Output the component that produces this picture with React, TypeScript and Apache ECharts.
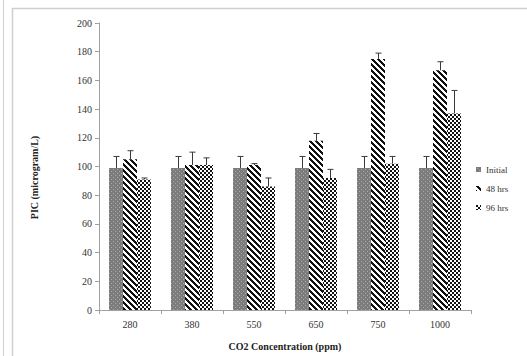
import React, { useEffect, useRef } from "react";
import * as echarts from "echarts";

// CO2 treatment levels (ppm)
const categories = ["280", "380", "550", "650", "750", "1000"];

// PIC means (microgram/L) and standard errors per sampling time
const initialValues = [99, 99, 99, 99, 99, 99];
const initialErrors = [8, 8, 8, 8, 8, 8];
const hrs48Values = [105, 101, 101, 118, 175, 167];
const hrs48Errors = [6, 9, 1, 5, 4, 6];
const hrs96Values = [91, 101, 86, 92, 102, 137];
const hrs96Errors = [1, 5, 6, 6, 5, 16];

const seriesNames = ["Initial", "48 hrs", "96 hrs"];

const FONT = "'Liberation Serif', 'Times New Roman', serif";
const BAR_WIDTH = 14;

function makeTile(size: number, draw: (ctx: CanvasRenderingContext2D) => void) {
  const c = document.createElement("canvas");
  c.width = size;
  c.height = size;
  const ctx = c.getContext("2d")!;
  draw(ctx);
  return c;
}

function dottedGray() {
  return makeTile(4, (ctx) => {
    ctx.fillStyle = "#7c7c7c";
    ctx.fillRect(0, 0, 4, 4);
    ctx.fillStyle = "#a9a9a9";
    ctx.fillRect(1, 1, 1, 1);
    ctx.fillRect(3, 3, 1, 1);
  });
}

function diagonalStripes() {
  const n = 6;
  return makeTile(n, (ctx) => {
    ctx.fillStyle = "#ffffff";
    ctx.fillRect(0, 0, n, n);
    ctx.fillStyle = "#111111";
    for (let y = 0; y < n; y++) {
      for (let x = 0; x < n; x++) {
        if (((x - y + n * 2) % n) < 3) ctx.fillRect(x, y, 1, 1);
      }
    }
  });
}

function checker() {
  return makeTile(4, (ctx) => {
    ctx.fillStyle = "#ffffff";
    ctx.fillRect(0, 0, 4, 4);
    ctx.fillStyle = "#111111";
    ctx.fillRect(0, 0, 2, 2);
    ctx.fillRect(2, 2, 2, 2);
  });
}

function errorBarSeries(values: number[], errors: number[], offset: number) {
  return {
    type: "custom",
    silent: true,
    z: 5,
    data: values.map((v, i) => [i, v, errors[i]]),
    encode: { x: 0, y: 1 },
    renderItem: (_params: any, api: any) => {
      const i = api.value(0);
      const v = api.value(1);
      const e = api.value(2);
      const base = api.coord([i, v]);
      const top = api.coord([i, v + e]);
      const x = Math.round(base[0] + offset) + 0.5;
      const style = { stroke: "#3a3a3a", lineWidth: 1 };
      return {
        type: "group",
        children: [
          { type: "line", shape: { x1: x, y1: base[1], x2: x, y2: top[1] }, style },
          { type: "line", shape: { x1: x - 3, y1: top[1], x2: x + 3, y2: top[1] }, style },
        ],
      };
    },
  };
}

export default function App() {
  const ref = useRef<HTMLDivElement>(null);

  useEffect(() => {
    if (!ref.current) return;
    const chart = echarts.init(ref.current, null, { renderer: "svg" });

    const fills = [dottedGray(), diagonalStripes(), checker()];
    const pattern = (c: HTMLCanvasElement) => ({
      image: c,
      repeat: "repeat",
      imageWidth: c.width,
      imageHeight: c.height,
    });

    const seriesValues = [initialValues, hrs48Values, hrs96Values];

    const bars = seriesNames.map((name, k) => ({
      name,
      type: "bar",
      barWidth: BAR_WIDTH,
      barGap: "0%",
      data: seriesValues[k],
      itemStyle: { color: pattern(fills[k]) as any },
    }));

    chart.setOption({
      animation: false,
      backgroundColor: "#ffffff",
      graphic: [
        {
          type: "line",
          shape: { x1: 3.5, y1: 0, x2: 3.5, y2: 356 },
          style: { stroke: "#cfcfcf", lineWidth: 1 },
          silent: true,
        },
        {
          type: "rect",
          shape: { x: 12.5, y: 8.5, width: 600, height: 400 },
          style: { fill: "none", stroke: "#cfcfcf", lineWidth: 1.5 },
          silent: true,
        },
      ],
      grid: { left: 99, right: 56, top: 23, bottom: 43 },
      legend: {
        data: seriesNames,
        orient: "vertical",
        left: 471,
        top: 160,
        itemWidth: 5,
        itemHeight: 5,
        itemGap: 10,
        icon: "rect",
        textStyle: { fontFamily: FONT, fontSize: 9, color: "#333" },
      },
      xAxis: {
        type: "category",
        data: categories,
        name: "CO2 Concentration (ppm)",
        nameLocation: "middle",
        nameGap: 31,
        nameTextStyle: { fontFamily: FONT, fontSize: 10, fontWeight: "bold", color: "#222" },
        axisLine: { lineStyle: { color: "#a0a0a0" } },
        axisTick: { show: true, length: 4, lineStyle: { color: "#a0a0a0" } },
        axisLabel: { fontFamily: FONT, fontSize: 10, color: "#333", margin: 9 },
      },
      yAxis: {
        type: "value",
        min: 0,
        max: 200,
        interval: 20,
        name: "PIC (microgram/L)",
        nameLocation: "middle",
        nameGap: 60,
        nameTextStyle: {
          fontFamily: FONT,
          fontSize: 10,
          fontWeight: "bold",
          color: "#222",
          padding: [0, 22, 0, 0],
        },
        axisLine: { show: true, lineStyle: { color: "#a0a0a0" } },
        axisTick: { show: true, length: 4, lineStyle: { color: "#a0a0a0" } },
        splitLine: { show: false },
        axisLabel: { fontFamily: FONT, fontSize: 10, color: "#333", margin: 7 },
      },
      series: [
        ...bars,
        errorBarSeries(initialValues, initialErrors, -BAR_WIDTH),
        errorBarSeries(hrs48Values, hrs48Errors, 0),
        errorBarSeries(hrs96Values, hrs96Errors, BAR_WIDTH),
      ],
    } as any);

    return () => chart.dispose();
  }, []);

  return (
    <div
      ref={ref}
      style={{ position: "fixed", left: 0, top: 0, width: 527, height: 356 }}
    />
  );
}
